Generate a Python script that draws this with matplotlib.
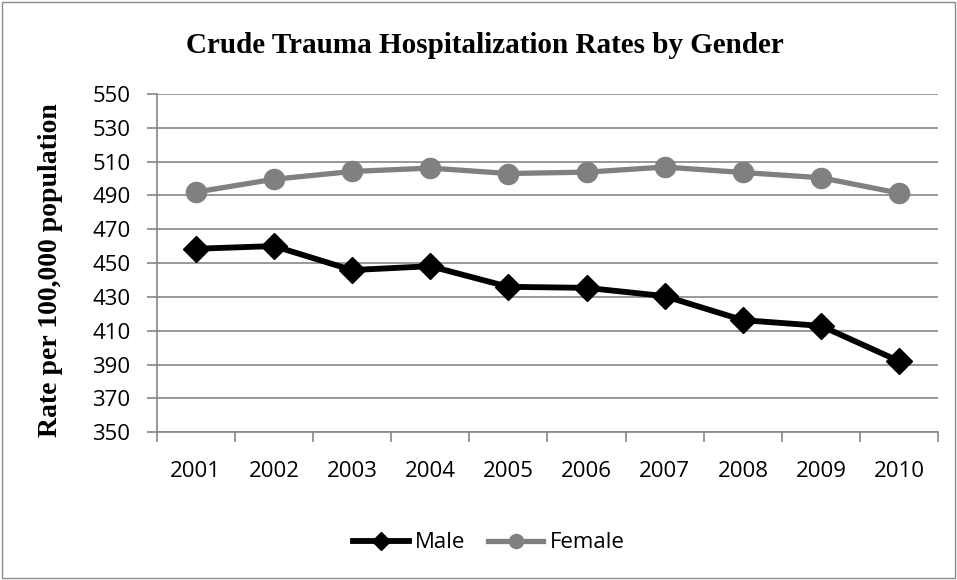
import matplotlib.pyplot as plt
from matplotlib.patches import Rectangle
import numpy as np

# chart data
years = ['2001', '2002', '2003', '2004', '2005', '2006', '2007', '2008', '2009', '2010']
male = [458.5, 460.1, 445.9, 448.2, 436.0, 435.4, 430.5, 416.3, 412.9, 392.0]
female = [492.0, 499.6, 504.2, 506.2, 503.0, 503.8, 506.8, 503.6, 500.5, 491.4]
y_ticks = list(range(350, 551, 20))

grid_col = '#868686'
tick_font = 'Open Sans'
serif_font = 'Liberation Serif'

fig = plt.figure(figsize=(9.57, 5.8), dpi=100)
ax = fig.add_axes([0.1637, 0.2547, 0.8168, 0.5832])

# outer chart border
fig.patches.append(Rectangle((0.002, 0.003), 0.996, 0.994, transform=fig.transFigure,
                             fill=False, edgecolor='#8c8c8c', linewidth=1.0))

x = np.arange(len(years))
ax.plot(x, male, color='black', linewidth=4.2, marker='D', markersize=13,
        label='Male', zorder=4)
ax.plot(x, female, color='#808080', linewidth=3.8, marker='o', markersize=14.5,
        label='Female', zorder=3)

ax.set_xlim(-0.5, len(years) - 0.5)
ax.set_ylim(350, 550)
ax.set_yticks(y_ticks)
ax.set_yticklabels([str(v) for v in y_ticks], fontfamily=tick_font, fontsize=16)
ax.set_xticks(x)
ax.set_xticklabels(years, fontfamily=tick_font, fontsize=16)
ax.set_xticks(np.arange(-0.5, len(years)), minor=True)
ax.tick_params(axis='x', which='major', length=0, pad=21)
ax.tick_params(axis='x', which='minor', length=7, width=1.2, color=grid_col, direction='out')
ax.tick_params(axis='y', length=7, width=1.2, color=grid_col, pad=12)

ax.grid(axis='y', color=grid_col, linewidth=1.2)
ax.set_axisbelow(True)
for s in ['top', 'right']:
    ax.spines[s].set_visible(False)
for s in ['left', 'bottom']:
    ax.spines[s].set_color(grid_col)
    ax.spines[s].set_linewidth(1.2)

ax.set_ylabel('Rate per 100,000 population', fontfamily=serif_font, fontweight='bold',
              fontsize=20)
ax.yaxis.set_label_coords(-0.12, 0.48)
fig.text(0.507, 0.922, 'Crude Trauma Hospitalization Rates by Gender', ha='center',
         va='center', fontfamily=serif_font, fontweight='bold', fontsize=21)

fig.legend(loc='center', bbox_to_anchor=(0.511, 0.064), ncol=2, frameon=False,
           prop={'family': tick_font, 'size': 16}, handlelength=2.5,
           handletextpad=0.3, columnspacing=1.0, markerscale=0.7)

plt.savefig('out.png', dpi=100)
